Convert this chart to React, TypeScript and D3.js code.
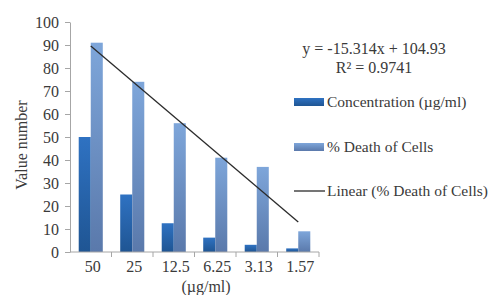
import React, { useEffect, useRef } from 'react';
import * as d3 from 'd3';

const categories = ['50', '25', '12.5', '6.25', '3.13', '1.57'];
const concentration = [50, 25, 12.5, 6.25, 3.13, 1.57];
const deathOfCells = [91, 74, 56, 41, 37, 9];
const yTicks = [0, 10, 20, 30, 40, 50, 60, 70, 80, 90, 100];
const trendSlope = -15.314;
const trendIntercept = 104.93;
const equationLines = ['y = -15.314x + 104.93', 'R² = 0.9741'];
const seriesNames = ['Concentration (µg/ml)', '% Death of Cells', 'Linear (% Death of Cells)'];

const FONT = "'Liberation Serif', 'Times New Roman', serif";
const TEXT = '#3a3a3a';
const AXIS = '#a6a6a6';

export default function App() {
  const svgRef = useRef<SVGSVGElement>(null);

  useEffect(() => {
    if (!svgRef.current) return;
    const width = 493;
    const height = 295;
    const margin = { top: 22, right: 174, bottom: 43, left: 70 };

    const svg = d3.select(svgRef.current);
    svg.selectAll('*').remove();
    svg
      .attr('width', width)
      .attr('height', height)
      .attr('font-family', FONT)
      .attr('font-size', 16);

    // Gradients
    const defs = svg.append('defs');
    const grads: [string, string, string][] = [
      ['gConc', '#2f72c2', '#1f5593'],
      ['gDeath', '#7ea6da', '#5a79ab'],
    ];
    grads.forEach(([id, top, bottom]) => {
      const lg = defs.append('linearGradient').attr('id', id).attr('x1', 0).attr('y1', 0).attr('x2', 0).attr('y2', 1);
      lg.append('stop').attr('offset', '0%').attr('stop-color', top);
      lg.append('stop').attr('offset', '100%').attr('stop-color', bottom);
    });

    const x = d3
      .scaleBand()
      .domain(categories)
      .range([margin.left, width - margin.right]);

    const y = d3
      .scaleLinear()
      .domain([0, 100])
      .range([height - margin.bottom, margin.top]);

    const barW = x.bandwidth() * 0.29;

    // Y axis
    const yAxis = svg
      .append('g')
      .attr('transform', `translate(${margin.left},0)`)
      .call(d3.axisLeft(y).tickValues(yTicks).tickSize(5).tickPadding(6).tickSizeOuter(0));
    yAxis.attr('font-family', FONT).attr('font-size', 16);
    yAxis.select('.domain').attr('stroke', AXIS);
    yAxis.selectAll('line').attr('stroke', AXIS);
    yAxis.selectAll('text').attr('fill', TEXT);

    // Bars
    const g = svg.append('g');
    categories.forEach((c, i) => {
      const cx = (x(c) || 0) + x.bandwidth() / 2;
      g.append('rect')
        .attr('x', cx - barW)
        .attr('y', y(concentration[i]))
        .attr('width', barW)
        .attr('height', y(0) - y(concentration[i]))
        .attr('fill', 'url(#gConc)');
      g.append('rect')
        .attr('x', cx)
        .attr('y', y(deathOfCells[i]))
        .attr('width', barW)
        .attr('height', y(0) - y(deathOfCells[i]))
        .attr('fill', 'url(#gDeath)');
    });

    // X axis
    const xAxisG = svg.append('g').attr('transform', `translate(0,${y(0)})`);
    xAxisG.append('line')
      .attr('x1', margin.left)
      .attr('x2', width - margin.right)
      .attr('stroke', AXIS);
    categories.forEach((c) => {
      const left = x(c) || 0;
      xAxisG.append('line')
        .attr('x1', left + x.bandwidth())
        .attr('x2', left + x.bandwidth())
        .attr('y1', 0)
        .attr('y2', 5)
        .attr('stroke', AXIS);
      xAxisG.append('text')
        .attr('x', left + x.bandwidth() / 2 + 2)
        .attr('y', 20)
        .attr('text-anchor', 'middle')
        .attr('fill', TEXT)
        .text(c);
    });

    // Axis titles
    svg.append('text')
      .attr('x', 206)
      .attr('y', 292)
      .attr('text-anchor', 'middle')
      .attr('fill', TEXT)
      .text('(µg/ml)');
    svg.append('text')
      .attr('transform', 'translate(27,145) rotate(-90)')
      .attr('text-anchor', 'middle')
      .attr('fill', TEXT)
      .text('Value number');

    // Trendline
    const idx = d3.range(1, categories.length + 1);
    const line = d3
      .line<number>()
      .x((k) => (x(categories[k - 1]) || 0) + x.bandwidth() / 2)
      .y((k) => y(trendSlope * k + trendIntercept));
    svg.append('path')
      .datum([idx[0], idx[idx.length - 1]])
      .attr('d', line)
      .attr('fill', 'none')
      .attr('stroke', '#2b2b2b')
      .attr('stroke-width', 1.3);

    // Equation
    equationLines.forEach((t, i) => {
      svg.append('text')
        .attr('x', 374)
        .attr('y', 54 + i * 19)
        .attr('text-anchor', 'middle')
        .attr('fill', TEXT)
        .text(t);
    });

    // Legend
    const legendY = [102, 147, 191];
    const lg = svg.append('g').attr('font-size', 15.5);
    seriesNames.forEach((name, i) => {
      if (i < 2) {
        lg.append('rect')
          .attr('x', 294)
          .attr('y', legendY[i] - 4)
          .attr('width', 30)
          .attr('height', 8)
          .attr('fill', i === 0 ? 'url(#gConc)' : 'url(#gDeath)');
      } else {
        lg.append('line')
          .attr('x1', 294)
          .attr('x2', 325)
          .attr('y1', legendY[i])
          .attr('y2', legendY[i])
          .attr('stroke', '#2b2b2b')
          .attr('stroke-width', 1.3);
      }
      lg.append('text')
        .attr('x', 327)
        .attr('y', legendY[i] + 5)
        .attr('fill', TEXT)
        .text(name);
    });
  }, []);

  return (
    <svg
      ref={svgRef}
      style={{ position: 'absolute', left: 0, top: 0, display: 'block', background: '#fff' }}
    />
  );
}
